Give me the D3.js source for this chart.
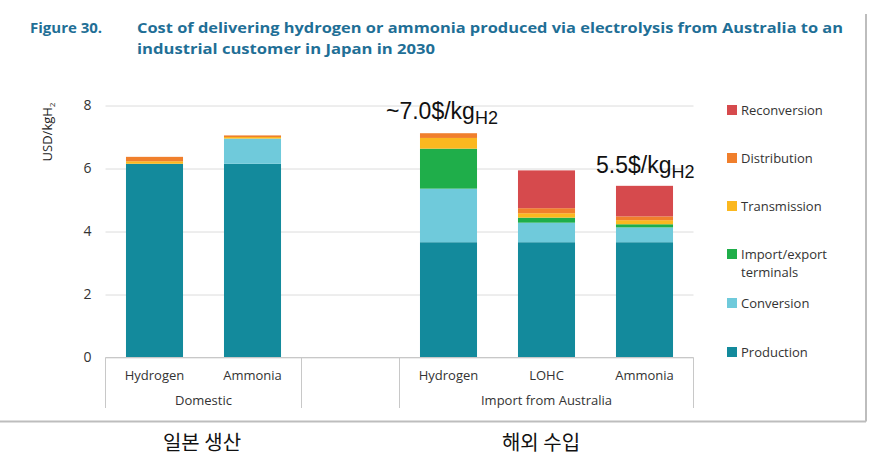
<!DOCTYPE html>
<html>
<head>
<meta charset="utf-8">
<script src="https://cdn.jsdelivr.net/npm/d3@7"></script>
<style>
  body { margin: 0; background: #fff; }
  svg { display: block; }
  text { font-family: "Open Sans", "Noto Sans", sans-serif; }
</style>
</head>
<body>
<svg width="881" height="463"></svg>
<script>
// chart data
var slots = ["dH2", "dNH3", "gap", "iH2", "iLOHC", "iNH3"];
var categories = ["Hydrogen", "Ammonia", "", "Hydrogen", "LOHC", "Ammonia"];
var groups = [
    {name: "Domestic", from: 0, to: 1},
    {name: "", from: 2, to: 2},
    {name: "Import from Australia", from: 3, to: 5}
];
var seriesNames = ["Production", "Conversion", "Import/export terminals", "Transmission", "Distribution", "Reconversion"];
var production   = [6.15, 6.15, 0, 3.66, 3.66, 3.66];
var conversion   = [0, 0.80, 0, 1.70, 0.62, 0.47];
var terminals    = [0, 0, 0, 1.27, 0.16, 0.10];
var transmission = [0.08, 0.05, 0, 0.34, 0.14, 0.13];
var distribution = [0.14, 0.05, 0, 0.15, 0.16, 0.12];
var reconversion = [0, 0, 0, 0, 1.20, 0.97];
var yTicks = [0, 2, 4, 6, 8];

var colors = ["#138a9c", "#6fcadb", "#1fae4a", "#fbb81f", "#f07f2c", "#d64a4d"];

var rows = slots.map(function (s, i) {
    return {
        slot: s,
        "Production": production[i],
        "Conversion": conversion[i],
        "Import/export terminals": terminals[i],
        "Transmission": transmission[i],
        "Distribution": distribution[i],
        "Reconversion": reconversion[i]
    };
});

var svg = d3.select("svg");

// picture frame (screenshot border)
svg.append("line").attr("x1", 0).attr("x2", 866).attr("y1", 421.5).attr("y2", 421.5)
    .attr("stroke", "#bdbdbd").attr("stroke-width", 2);
svg.append("line").attr("x1", 866).attr("x2", 866).attr("y1", 14).attr("y2", 421.5)
    .attr("stroke", "#bdbdbd").attr("stroke-width", 2);

// title
var titleColor = "#1f6f96";
svg.append("text").attr("x", 30).attr("y", 33)
    .attr("font-size", 15).attr("font-weight", "bold").attr("fill", titleColor)
    .text("Figure 30.");
svg.append("text").attr("x", 137).attr("y", 33)
    .attr("font-size", 15).attr("font-weight", "bold").attr("fill", titleColor)
    .attr("textLength", 706).attr("lengthAdjust", "spacingAndGlyphs")
    .text("Cost of delivering hydrogen or ammonia produced via electrolysis from Australia to an");
svg.append("text").attr("x", 137).attr("y", 54)
    .attr("font-size", 15).attr("font-weight", "bold").attr("fill", titleColor)
    .attr("textLength", 298).attr("lengthAdjust", "spacingAndGlyphs")
    .text("industrial customer in Japan in 2030");

var x = d3.scaleBand()
    .domain(slots)
    .range([105.5, 693.5])
    .paddingInner(0.418)
    .paddingOuter(0.209);

var y = d3.scaleLinear()
    .domain([0, 8])
    .range([357.5, 105.5]);

// gridlines + tick labels
var yAxis = svg.append("g")
    .attr("transform", "translate(105.5,0)")
    .call(d3.axisLeft(y).tickValues(yTicks).tickSize(-588).tickPadding(14).tickFormat(d3.format("d")));
yAxis.select(".domain").remove();
yAxis.selectAll(".tick line").attr("stroke", "#dcdcdc");
yAxis.selectAll(".tick text").attr("font-size", 14).attr("fill", "#333")
    .style("font-family", "'Open Sans', sans-serif");

// y axis title
var yl = svg.append("text")
    .attr("transform", "translate(52,132) rotate(-90)")
    .attr("text-anchor", "middle").attr("font-size", 13).attr("fill", "#222");
yl.append("tspan").text("USD/kgH");
yl.append("tspan").attr("font-size", 8).attr("dy", 3).text("2");

// stacked bars
var stack = d3.stack().keys(seriesNames);
var layers = stack(rows);

svg.append("g").selectAll("g")
    .data(layers).enter()
    .append("g")
    .attr("fill", function (d, i) { return colors[i]; })
    .selectAll("rect")
    .data(function (d) { return d; }).enter()
    .append("rect")
    .attr("x", function (d) { return x(d.data.slot); })
    .attr("width", x.bandwidth())
    .attr("y", function (d) { return y(d[1]); })
    .attr("height", function (d) { return y(d[0]) - y(d[1]); });

// category axis box
var axisCol = "#c8c8c8";
svg.append("line").attr("x1", 105.5).attr("x2", 693.5).attr("y1", 357.5).attr("y2", 357.5)
    .attr("stroke", axisCol);
var seps = [0, 2, 3, 6].map(function (i) { return 105.5 + x.step() * i; });
svg.append("g").selectAll("line")
    .data(seps).enter()
    .append("line")
    .attr("x1", function (d) { return d; }).attr("x2", function (d) { return d; })
    .attr("y1", 357.5).attr("y2", 408)
    .attr("stroke", axisCol);

svg.append("g").selectAll("text")
    .data(categories).enter()
    .append("text")
    .attr("x", function (d, i) { return x(slots[i]) + x.bandwidth() / 2; })
    .attr("y", 380)
    .attr("text-anchor", "middle").attr("font-size", 13).attr("fill", "#333")
    .text(function (d) { return d; });

svg.append("g").selectAll("text")
    .data(groups).enter()
    .append("text")
    .attr("x", function (d) { return (x(slots[d.from]) + x(slots[d.to]) + x.bandwidth()) / 2; })
    .attr("y", 405)
    .attr("text-anchor", "middle").attr("font-size", 13).attr("fill", "#333")
    .text(function (d) { return d.name; });

// legend (top item = Reconversion)
var legendY = [110, 158, 206, 254, 303, 352];
var legend = svg.append("g").selectAll("g")
    .data(seriesNames.slice().reverse()).enter()
    .append("g")
    .attr("transform", function (d, i) { return "translate(727," + legendY[i] + ")"; });
legend.append("rect").attr("x", 0).attr("y", -5).attr("width", 10).attr("height", 10)
    .attr("fill", function (d, i) { return colors[colors.length - 1 - i]; });
legend.append("text").attr("x", 14).attr("y", 5)
    .attr("font-size", 13).attr("fill", "#333")
    .each(function (d) {
        var t = d3.select(this);
        if (d === "Import/export terminals") {
            t.append("tspan").attr("x", 14).text("Import/export");
            t.append("tspan").attr("x", 14).attr("dy", 18).text("terminals");
        } else {
            t.text(d);
        }
    });

// cost annotations
var notes = [
    {label: "~7.0$/kg", x: 386, y: 119},
    {label: "5.5$/kg", x: 596, y: 173}
];
notes.forEach(function (n) {
    var t = svg.append("text").attr("x", n.x).attr("y", n.y)
        .attr("font-size", 23).attr("fill", "#111")
        .style("font-family", "'Liberation Sans', Arial, sans-serif");
    t.append("tspan").text(n.label);
    t.append("tspan").attr("font-size", 18).attr("dy", 5).text("H2");
});

// korean captions
var captions = [
    {label: "일본 생산", x: 202},
    {label: "해외 수입", x: 541}
];
svg.append("g").selectAll("text")
    .data(captions).enter()
    .append("text")
    .attr("x", function (d) { return d.x; })
    .attr("y", 450)
    .attr("text-anchor", "middle").attr("font-size", 20).attr("fill", "#111")
    .style("font-family", "'Noto Sans CJK KR', sans-serif")
    .text(function (d) { return d.label; });
</script>
</body>
</html>
